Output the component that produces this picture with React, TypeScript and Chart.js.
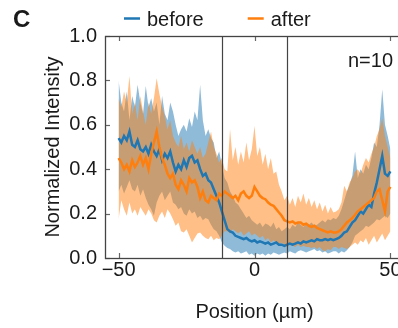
import React, { useEffect, useRef } from 'react';
import { Chart, registerables } from 'chart.js';

Chart.register(...registerables);

const positions = [
  -50, -49, -48, -47, -46, -45, -44, -43, -42, -41,
  -40, -39, -38, -37, -36, -35, -34, -33, -32, -31,
  -30, -29, -28, -27, -26, -25, -24, -23, -22, -21,
  -20, -19, -18, -17, -16, -15, -14, -13, -12, -11,
  -10, -9, -8, -7, -6, -5, -4, -3, -2, -1,
  0, 1, 2, 3, 4, 5, 6, 7, 8, 9,
  10, 11, 12, 13, 14, 15, 16, 17, 18, 19,
  20, 21, 22, 23, 24, 25, 26, 27, 28, 29,
  30, 31, 32, 33, 34, 35, 36, 37, 38, 39,
  40, 41, 42, 43, 44, 45, 46, 47, 48, 49, 50,
];

const beforeMean = [
  0.54, 0.52, 0.55, 0.53, 0.57, 0.51, 0.50, 0.53, 0.49, 0.48,
  0.50, 0.47, 0.51, 0.48, 0.46, 0.49, 0.44, 0.47, 0.45, 0.48,
  0.43, 0.39, 0.42, 0.40, 0.44, 0.41, 0.45, 0.46, 0.43, 0.44,
  0.40, 0.37, 0.38, 0.35, 0.34, 0.31, 0.28, 0.25, 0.21, 0.17,
  0.13, 0.12, 0.115, 0.10, 0.095, 0.09, 0.085, 0.09, 0.08, 0.075,
  0.08, 0.07, 0.075, 0.07, 0.065, 0.07, 0.06, 0.065, 0.07, 0.06,
  0.06, 0.055, 0.06, 0.065, 0.06, 0.065, 0.07, 0.065, 0.075, 0.07,
  0.075, 0.08, 0.075, 0.085, 0.08, 0.08, 0.085, 0.08, 0.085, 0.08,
  0.085, 0.09, 0.10, 0.115, 0.12, 0.14, 0.16, 0.17, 0.19, 0.21,
  0.20, 0.22, 0.24, 0.23, 0.29, 0.34, 0.40, 0.46, 0.38, 0.37, 0.39,
];

const beforeUpper = [
  0.80, 0.70, 0.66, 0.75, 0.62, 0.73, 0.68, 0.78, 0.70, 0.65,
  0.775, 0.68, 0.72, 0.66, 0.70, 0.60, 0.73, 0.65, 0.62, 0.70,
  0.66, 0.60, 0.55, 0.58, 0.60, 0.57, 0.63, 0.59, 0.66, 0.62,
  0.78, 0.62, 0.55, 0.58, 0.54, 0.52, 0.45, 0.48, 0.42, 0.36,
  0.34, 0.30, 0.28, 0.25, 0.24, 0.22, 0.20, 0.18, 0.19, 0.17,
  0.16, 0.15, 0.16, 0.14, 0.155, 0.15, 0.14, 0.16, 0.13, 0.14,
  0.12, 0.13, 0.14, 0.13, 0.15, 0.14, 0.16, 0.15, 0.14, 0.155,
  0.15, 0.16, 0.145, 0.15, 0.16, 0.17, 0.16, 0.175, 0.17, 0.18,
  0.175, 0.19, 0.22, 0.26, 0.30, 0.33, 0.37, 0.48, 0.36, 0.40,
  0.38, 0.42, 0.40, 0.45, 0.52, 0.50, 0.60, 0.76, 0.60, 0.55, 0.49,
];

const beforeLower = [
  0.30, 0.33, 0.29, 0.32, 0.35, 0.31, 0.30, 0.33, 0.28, 0.31,
  0.27, 0.24, 0.22, 0.19, 0.25, 0.28, 0.30, 0.26, 0.28, 0.30,
  0.25, 0.24, 0.22, 0.23, 0.20, 0.19, 0.22, 0.20, 0.21, 0.18,
  0.19, 0.17, 0.18, 0.175, 0.15, 0.13, 0.12, 0.10, 0.07, 0.055,
  0.045, 0.04, 0.03, 0.025, 0.03, 0.02, 0.025, 0.03, 0.015, 0.02,
  0.01, 0.02, 0.015, 0.02, 0.01, 0.02, 0.015, 0.025, 0.02, 0.015,
  0.02, 0.025, 0.02, 0.03, 0.025, 0.02, 0.03, 0.035, 0.03, 0.025,
  0.03, 0.035, 0.04, 0.03, 0.035, 0.025, 0.03, 0.02, 0.025, 0.03,
  0.03, 0.02, 0.03, 0.025, 0.035, 0.05, 0.07, 0.10, 0.11, 0.12,
  0.13, 0.145, 0.14, 0.15, 0.16, 0.175, 0.17, 0.18, 0.19, 0.18, 0.20,
];

const afterMean = [
  0.45, 0.43, 0.40, 0.42, 0.39, 0.44, 0.41, 0.43, 0.46, 0.42,
  0.45, 0.40, 0.47, 0.52, 0.57, 0.50, 0.45, 0.42, 0.38, 0.36,
  0.38, 0.33, 0.31, 0.35, 0.33, 0.30, 0.36, 0.34, 0.35, 0.32,
  0.27, 0.30, 0.26, 0.25, 0.28, 0.27, 0.26, 0.29, 0.28, 0.30,
  0.29, 0.28, 0.27, 0.28, 0.26, 0.29, 0.30, 0.28, 0.27, 0.28,
  0.32, 0.30, 0.28, 0.27, 0.265, 0.25, 0.24, 0.235, 0.22, 0.205,
  0.19, 0.17, 0.165, 0.16, 0.165, 0.155, 0.16, 0.16, 0.15, 0.155,
  0.145, 0.14, 0.145, 0.135, 0.13, 0.125, 0.12, 0.115, 0.12, 0.115,
  0.115, 0.12, 0.13, 0.145, 0.16, 0.17, 0.18, 0.195, 0.21, 0.22,
  0.23, 0.24, 0.25, 0.26, 0.27, 0.30, 0.31, 0.26, 0.21, 0.30, 0.32,
];

const afterUpper = [
  0.72, 0.68, 0.75, 0.70, 0.82, 0.65, 0.70, 0.62, 0.73, 0.66,
  0.60, 0.70, 0.65, 0.72, 0.81, 0.74, 0.68, 0.64, 0.58, 0.62,
  0.55, 0.52, 0.50, 0.55, 0.49, 0.52, 0.48, 0.53, 0.50, 0.47,
  0.50, 0.45, 0.47, 0.52, 0.57, 0.50, 0.47, 0.43, 0.45, 0.40,
  0.39, 0.58, 0.44, 0.50, 0.42, 0.48, 0.43, 0.52, 0.44, 0.49,
  0.595, 0.46, 0.50, 0.42, 0.47, 0.40, 0.45, 0.38, 0.39, 0.33,
  0.30, 0.26, 0.28, 0.24, 0.27, 0.23, 0.28, 0.25, 0.29, 0.24,
  0.27, 0.23, 0.26, 0.22, 0.25, 0.21, 0.24, 0.20, 0.23, 0.205,
  0.21, 0.22, 0.25, 0.325, 0.30, 0.34, 0.36, 0.39, 0.40, 0.38,
  0.42, 0.45, 0.43, 0.47, 0.50, 0.55, 0.58, 0.63, 0.55, 0.50, 0.45,
];

const afterLower = [
  0.175, 0.26, 0.22, 0.19, 0.25, 0.20, 0.22, 0.19, 0.23, 0.21,
  0.19, 0.22, 0.20, 0.17, 0.16, 0.19, 0.21, 0.18, 0.22, 0.20,
  0.175, 0.145, 0.16, 0.12, 0.115, 0.13, 0.10, 0.07, 0.09, 0.11,
  0.115, 0.10, 0.09, 0.085, 0.10, 0.08, 0.09, 0.085, 0.10, 0.12,
  0.12, 0.11, 0.13, 0.12, 0.11, 0.12, 0.10, 0.11, 0.12, 0.10,
  0.11, 0.10, 0.09, 0.10, 0.08, 0.09, 0.07, 0.08, 0.07, 0.06,
  0.07, 0.06, 0.05, 0.06, 0.055, 0.05, 0.06, 0.05, 0.055, 0.05,
  0.05, 0.045, 0.05, 0.04, 0.05, 0.035, 0.03, 0.04, 0.035, 0.05,
  0.05, 0.04, 0.05, 0.045, 0.04, 0.05, 0.06, 0.07, 0.06, 0.08,
  0.07, 0.09, 0.06, 0.08, 0.10, 0.07, 0.09, 0.11, 0.08, 0.10, 0.12,
];

const xTicks = [-50, 0, 50];
const yTicks = [0, 0.2, 0.4, 0.6, 0.8, 1.0];
const boundaries = [-11.8, 11.8];
const seriesLabels = ['before', 'after'];
const seriesColors = ['#1f77b4', '#ff7f0e'];
const bandColors = ['rgba(31,119,180,0.5)', 'rgba(255,127,14,0.5)'];
const panelLabel = 'C';
const sampleNote = 'n=10';
const xTitle = 'Position (µm)';
const yTitle = 'Normalized Intensity';

const FONT = "'Liberation Sans', Arial, Helvetica, sans-serif";
const TEXT = '#1a1a1a';

const toPts = (vals: number[]) => positions.map((p, i) => ({ x: p, y: vals[i] }));

const decorations = {
  id: 'decorations',
  afterDatasetsDraw(chart: any) {
    const { ctx, chartArea: a, scales } = chart;
    const x = scales.x;
    const y = scales.y;
    ctx.save();
    const line = (x1: number, y1: number, x2: number, y2: number) => {
      ctx.beginPath();
      ctx.moveTo(x1, y1);
      ctx.lineTo(x2, y2);
      ctx.stroke();
    };
    ctx.strokeStyle = '#444';
    ctx.lineWidth = 1.2;
    boundaries.forEach((b) => {
      const px = Math.round(x.getPixelForValue(b)) + 0.5;
      line(px, a.top, px, a.bottom);
    });
    ctx.strokeStyle = '#666';
    ctx.lineWidth = 1.2;
    xTicks.forEach((v) => {
      const px = Math.round(x.getPixelForValue(v)) + 0.5;
      line(px, a.bottom, px, a.bottom - 5);
      line(px, a.top, px, a.top + 5);
    });
    yTicks.forEach((v) => {
      const py = Math.round(y.getPixelForValue(v)) + 0.5;
      line(a.left, py, a.left + 5, py);
      line(a.right, py, a.right - 5, py);
    });
    ctx.strokeStyle = '#444';
    ctx.lineWidth = 1.3;
    ctx.strokeRect(a.left + 0.5, a.top + 0.5, a.right - a.left, a.bottom - a.top);
    ctx.restore();
  },
  afterDraw(chart: any) {
    const { ctx, chartArea: a } = chart;
    ctx.save();
    ctx.fillStyle = TEXT;
    ctx.textBaseline = 'alphabetic';
    ctx.textAlign = 'left';
    ctx.font = `bold 24px ${FONT}`;
    ctx.fillText(panelLabel, 13, 27);

    ctx.font = `20px ${FONT}`;
    let cx = a.left + 19;
    seriesLabels.forEach((lab, i) => {
      ctx.strokeStyle = seriesColors[i];
      ctx.lineWidth = 2.5;
      ctx.beginPath();
      ctx.moveTo(cx, 18.5);
      ctx.lineTo(cx + 16, 18.5);
      ctx.stroke();
      ctx.fillStyle = TEXT;
      ctx.fillText(lab, cx + 23, 26);
      cx += 23 + ctx.measureText(lab).width + 44;
    });

    ctx.textAlign = 'right';
    ctx.fillText(sampleNote, a.right - 11, a.top + 31);
    ctx.restore();
  },
};

export default function App() {
  const ref = useRef<HTMLCanvasElement | null>(null);
  useEffect(() => {
    if (!ref.current) return;
    Chart.defaults.font.family = FONT;
    const chart = new Chart(ref.current, {
      type: 'line',
      data: {
        datasets: [
          {
            label: 'before-lower',
            data: toPts(beforeLower),
            borderColor: 'transparent',
            backgroundColor: 'transparent',
            borderWidth: 0,
            pointRadius: 0,
            fill: false,
            order: 10,
          },
          {
            label: 'before-upper',
            data: toPts(beforeUpper),
            borderColor: 'transparent',
            backgroundColor: bandColors[0],
            borderWidth: 0,
            pointRadius: 0,
            fill: '-1',
            order: 9,
          },
          {
            label: 'after-lower',
            data: toPts(afterLower),
            borderColor: 'transparent',
            backgroundColor: 'transparent',
            borderWidth: 0,
            pointRadius: 0,
            fill: false,
            order: 8,
          },
          {
            label: 'after-upper',
            data: toPts(afterUpper),
            borderColor: 'transparent',
            backgroundColor: bandColors[1],
            borderWidth: 0,
            pointRadius: 0,
            fill: '-1',
            order: 7,
          },
          {
            label: seriesLabels[0],
            data: toPts(beforeMean),
            borderColor: seriesColors[0],
            backgroundColor: seriesColors[0],
            borderWidth: 2.5,
            pointRadius: 0,
            fill: false,
            order: 6,
          },
          {
            label: seriesLabels[1],
            data: toPts(afterMean),
            borderColor: seriesColors[1],
            backgroundColor: seriesColors[1],
            borderWidth: 2.5,
            pointRadius: 0,
            fill: false,
            order: 5,
          },
        ],
      },
      options: {
        animation: false,
        responsive: false,
        devicePixelRatio: 1,
        layout: { padding: { left: 0, top: 36, right: 6, bottom: 0 } },
        plugins: {
          legend: { display: false },
          tooltip: { enabled: false },
          colors: { enabled: false },
        } as any,
        scales: {
          x: {
            type: 'linear',
            min: -55,
            max: 55,
            grid: { display: false, drawTicks: false, tickLength: 0 },
            border: { display: false },
            afterBuildTicks: (s: any) => {
              s.ticks = xTicks.map((v) => ({ value: v }));
            },
            afterFit: (s: any) => {
              s.height = 70;
            },
            ticks: {
              autoSkip: false,
              maxRotation: 0,
              padding: 0,
              color: TEXT,
              font: { size: 20, family: FONT },
              callback: (v: any) => (Number(v) < 0 ? '\u2212' + Math.abs(Number(v)) : String(v)),
            },
            title: {
              display: true,
              text: xTitle,
              color: TEXT,
              font: { size: 20, family: FONT },
              padding: { top: 0, bottom: 4 },
            },
          },
          y: {
            type: 'linear',
            min: 0,
            max: 1,
            grid: { display: false, drawTicks: false, tickLength: 0 },
            border: { display: false },
            afterBuildTicks: (s: any) => {
              s.ticks = yTicks.map((v) => ({ value: v }));
            },
            afterFit: (s: any) => {
              s.width = 105;
            },
            ticks: {
              padding: 8,
              color: TEXT,
              font: { size: 20, family: FONT },
              callback: (v: any) => Number(v).toFixed(1),
            },
            title: {
              display: true,
              text: yTitle,
              color: TEXT,
              font: { size: 20, family: FONT },
              padding: { top: 41, bottom: 0 },
            },
          },
        },
      },
      plugins: [decorations],
    });
    return () => chart.destroy();
  }, []);

  return (
    <div style={{ position: 'fixed', left: 0, top: 0, width: 398, height: 328, overflow: 'hidden', background: '#fff' }}>
      <canvas ref={ref} width={410} height={328} style={{ width: 410, height: 328, display: 'block' }} />
    </div>
  );
}
